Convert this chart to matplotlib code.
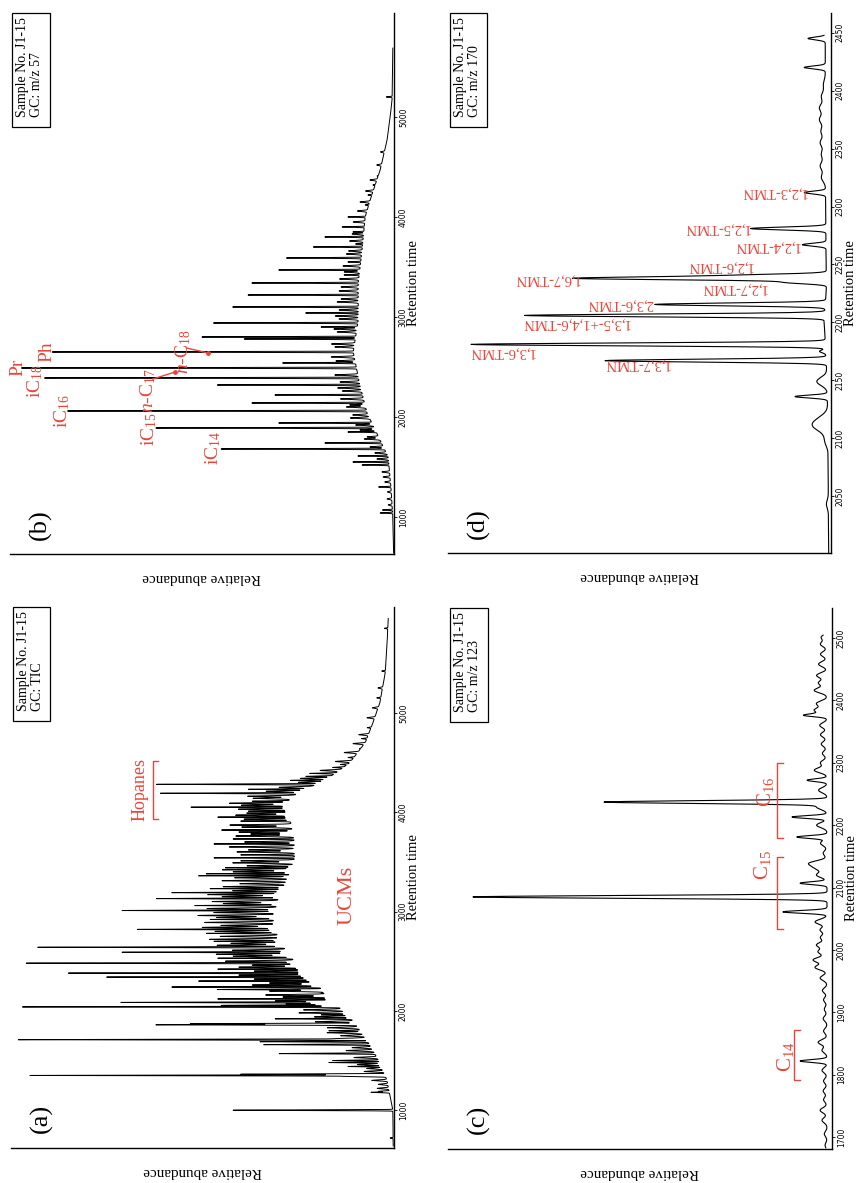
import numpy as np
import matplotlib
matplotlib.use("Agg")
import matplotlib.pyplot as plt
from matplotlib.patches import Rectangle

plt.rcParams['font.family'] = ['Liberation Serif', 'DejaVu Serif']
plt.rcParams['mathtext.fontset'] = 'custom'
plt.rcParams['mathtext.rm'] = 'Liberation Serif'
plt.rcParams['mathtext.it'] = 'Liberation Serif:italic'

RED = '#e8463a'

# ---------------- data ----------------
# (a) GC TIC : hump (UCM) profile, main peaks (time, tip), minor peaks (time, height above hump)
a_hump = [(640, 0.2), (1000, 0.3), (1300, 1.8), (1500, 4), (1700, 7), (1900, 10.7), (2100, 16),
          (2300, 21), (2500, 26), (2700, 30), (2900, 31.5), (3100, 30.5), (3300, 28), (3500, 26),
          (3700, 26), (3900, 27), (4100, 28), (4200, 25), (4300, 19), (4400, 15), (4500, 11.5),
          (4700, 7.5), (4900, 5.5), (5100, 3.7), (5400, 2.3), (5700, 1.8), (5950, 1.5)]
a_peaks = [(720, 1), (1000, 42), (1180, 6), (1190, 4), (1340, 13), (1350, 95), (1362, 40), (1440, 12),
           (1480, 17), (1500, 16), (1570, 30), (1660, 34), (1690, 35), (1710, 97), (1800, 17),
           (1860, 62), (1870, 53), (1920, 31), (1960, 19), (2040, 97), (2055, 45), (2085, 71),
           (2120, 46), (2180, 19), (2215, 46), (2240, 58), (2300, 51), (2340, 75), (2380, 85),
           (2420, 46), (2480, 96), (2530, 46), (2590, 71), (2640, 93), (2700, 47), (2780, 49),
           (2820, 67), (2920, 48), (3010, 71), (3060, 52), (3130, 62), (3190, 58), (3230, 48),
           (3360, 51), (3380, 49), (3440, 44), (3540, 47), (3570, 40), (3680, 47), (3730, 42),
           (3820, 45), (3910, 40), (3950, 46), (4010, 38), (4050, 53), (4110, 37), (4190, 61),
           (4230, 38), (4280, 62), (4320, 27), (4360, 23), (4390, 22), (4450, 16), (4480, 14),
           (4550, 12), (4640, 9), (4740, 8.5), (4850, 7), (5150, 4.5), (5420, 3.2), (5850, 2.5)]
a_minor = [(1220, 3), (1260, 2.5), (1300, 4), (1390, 5), (1420, 4), (1460, 6), (1530, 6), (1600, 7),
           (1630, 5), (1720, 8), (1750, 6), (1780, 9), (1830, 8), (1890, 10), (1940, 9), (1980, 12),
           (2010, 10), (2070, 13), (2100, 15), (2140, 12), (2160, 16), (2200, 14), (2260, 17),
           (2280, 12), (2320, 15), (2360, 18), (2400, 13), (2440, 16), (2460, 12), (2500, 18),
           (2550, 15), (2570, 19), (2610, 14), (2660, 17), (2680, 13), (2720, 18), (2750, 15),
           (2800, 16), (2840, 19), (2860, 14), (2890, 18), (2940, 15), (2960, 20), (2990, 16),
           (3030, 18), (3080, 14), (3100, 17), (3150, 15), (3170, 19), (3210, 13), (3250, 16),
           (3280, 12), (3310, 17), (3340, 14), (3400, 15), (3420, 18), (3460, 12), (3490, 16),
           (3510, 14), (3600, 15), (3620, 12), (3650, 17), (3700, 13), (3760, 15), (3780, 11),
           (3800, 14), (3850, 13), (3870, 16), (3930, 12), (3970, 14), (3990, 11), (4030, 13),
           (4070, 12), (4090, 15), (4140, 10), (4160, 12), (4210, 9), (4250, 8), (4300, 6),
           (4340, 7), (4420, 5), (4510, 4), (4600, 3.5), (4690, 3), (4780, 2.5), (4950, 2),
           (5050, 1.5), (5250, 1.2)]

# (b) GC m/z 57
b_hump = [(640, 0.1), (1000, 0.3), (1300, 0.8), (1600, 1.5), (1840, 4.5), (2040, 7), (2340, 9),
          (2650, 10.6), (2970, 9.3), (3340, 9.3), (3670, 8.3), (4000, 7.5), (4170, 6.2),
          (4470, 3.6), (4770, 1.8), (5000, 1.0), (5170, 0.5), (5700, 0.3)]
b_peaks = [(1040, 3.6), (1070, 3), (1300, 4), (1520, 8.3), (1550, 10.7), (1610, 9.4), (1680, 45),
           (1740, 18), (1850, 12), (1890, 62), (1940, 30), (2060, 85), (2140, 37), (2220, 31),
           (2320, 46), (2390, 91), (2490, 97), (2540, 29), (2650, 89), (2780, 39), (2800, 50),
           (2900, 19), (2940, 47), (3040, 23), (3100, 42), (3220, 38), (3340, 37), (3420, 13),
           (3470, 30), (3550, 12), (3590, 28), (3700, 21), (3730, 10), (3800, 18), (3850, 10.7),
           (3900, 13.5), (4000, 12), (4120, 7.5), (4220, 6.8), (4320, 5.5), (4410, 4.4), (5200, 2)]
b_minor = [(1120, 1), (1180, 1.2), (1250, 1), (1350, 1.5), (1400, 1.8), (1450, 2), (1580, 3),
           (1640, 3), (1700, 3.5), (1780, 4), (1800, 3), (1870, 4), (1920, 4.5), (1990, 5),
           (2020, 4), (2100, 5), (2120, 4), (2180, 6), (2260, 5), (2290, 6), (2350, 5), (2420, 6),
           (2560, 5), (2600, 6), (2700, 5), (2730, 6), (2850, 5), (2880, 6), (2980, 5), (3010, 6),
           (3070, 5), (3150, 5.5), (3180, 4.5), (3260, 5), (3300, 4.5), (3380, 5), (3450, 4),
           (3510, 4.5), (3630, 4), (3660, 3.5), (3760, 3.5), (3830, 3), (3950, 3), (4060, 2.5),
           (4150, 2.5), (4260, 2), (4370, 1.8), (4520, 1.2), (4650, 1)]

# (c) GC m/z 123
c_base = [(1683, 1.3), (2505, 1.3)]
c_peaks = [(1822, 8.3), (2061, 12.8), (2085, 93.5), (2107, 8.3), (2181, 9.1), (2213, 10.4),
           (2237, 59), (2272, 6.5), (2376, 7)]
c_bumps = [(1687, 1.8), (1705, 2.0), (1727, 2.6), (1743, 3.1), (1760, 2.2), (1774, 2.3), (1790, 2.2),
           (1807, 2.6), (1839, 2.6), (1852, 3.6), (1870, 2.2), (1890, 2.3), (1905, 2.0), (1920, 2.2),
           (1935, 2.5), (1955, 3.1), (1972, 4.4), (1984, 4.9), (1997, 3.6), (2008, 4.0), (2020, 3.0),
           (2032, 3.1), (2045, 4.4), (2120, 4.0), (2131, 4.0), (2139, 5.7), (2155, 2.3), (2171, 3.0),
           (2200, 4.0), (2229, 4.0), (2256, 3.5), (2288, 4.6), (2300, 3.0), (2315, 2.5), (2330, 2.8),
           (2345, 3.0), (2360, 3.2), (2384, 4.6), (2395, 4.0), (2416, 4.6), (2428, 3.5), (2440, 4.0),
           (2458, 3.5), (2474, 3.0), (2490, 3.0), (2501, 2.8)]

# (d) GC m/z 170
d_base = [(2001, 0.6), (2100, 0.8), (2150, 1.0), (2190, 1.6), (2200, 1.8), (2230, 1.2),
          (2300, 1.4), (2400, 1.5), (2448, 1.5)]
d_peaks = [(2136, 9.4), (2167, 59), (2175, 3), (2181, 94), (2206, 80), (2215.5, 46), (2234.5, 11.5),
           (2238, 65), (2240.5, 22), (2267, 7.5), (2281, 21), (2312, 7), (2420, 7), (2445, 6)]
d_bumps = [(2043, 1.2), (2096, 1.4), (2102, 1.5), (2109, 3.4), (2114, 3.4), (2119, 1.8), (2149, 3.7),
           (2200, 1.8), (2325, 2.5), (2335, 2.8), (2345, 2.5), (2355, 2.8), (2365, 2.6), (2375, 3.0),
           (2385, 3.0), (2395, 2.5), (2405, 2.0)]

# peak labels (text, intensity, retention time)
b_labels = [('Pr', 98, 2500), (r'iC$_{18}$', 93.5, 2362), ('Ph', 90.4, 2655), (r'iC$_{16}$', 86.5, 2060),
            (r'iC$_{15}$', 63.8, 1880), (r'$n$-C$_{17}$', 64, 2262), (r'$n$-C$_{18}$', 55, 2650),
            (r'iC$_{14}$', 47, 1690)]
d_labels = [('1,2,3-TMN', 6.3, 2312), ('1,2,5-TMN', 21.1, 2281), ('1,2,4-TMN', 8.1, 2265.5),
            ('1,2,6-TMN', 20.4, 2248), ('1,6,7-TMN', 65.5, 2237), ('1,2,7-TMN', 16.7, 2229),
            ('2,3,6-TMN', 46.5, 2215.5), ('1,3,5-+1,4,6-TMN', 52.5, 2199), ('1,3,6-TMN', 77.3, 2174),
            ('1,3,7-TMN', 42, 2164)]
# homologue groups in (c): label, start, end, label position
c_groups = [(r'C$_{14}$', 1791, 1871, 1828), (r'C$_{15}$', 2033, 2149, 2137), (r'C$_{16}$', 2179, 2299, 2254)]


def trace(t, base, peaks, sig, minor=(), sig2=1.0, minor_rel=False):
    bt, by = zip(*base)
    y = np.interp(t, bt, by)
    for ti, tip in peaks:
        y = y + (tip - np.interp(ti, bt, by)) * np.exp(-0.5 * ((t - ti) / sig) ** 2)
    for ti, h in minor:
        if not minor_rel:
            h = h - np.interp(ti, bt, by)
        y = y + h * np.exp(-0.5 * ((t - ti) / sig2) ** 2)
    return y


def decorate(ax, tlim, ticks, letter, gc_line):
    ax.set_xlim(100, 0)
    ax.set_ylim(*tlim)
    ax.spines['top'].set_visible(False)
    ax.spines['left'].set_visible(False)
    ax.spines['right'].set_linewidth(1.0)
    ax.spines['bottom'].set_linewidth(1.0)
    ax.set_xticks([])
    ax.yaxis.tick_right()
    ax.set_yticks(ticks)
    ax.tick_params(axis='y', direction='out', length=2, width=0.6, labelsize=5.5, pad=1.5,
                   labelrotation=90)
    for lab in ax.get_yticklabels():
        lab.set_family('DejaVu Sans')
        lab.set_va('center')
    ax.text(0.078, 0.055, letter, transform=ax.transAxes, rotation=90, fontsize=19,
            ha='center', va='center')
    ax.add_patch(Rectangle((0.004, 0.789), 0.099, 0.211, transform=ax.transAxes, fill=False,
                           lw=0.9, clip_on=False))
    ax.text(0.032, 0.808, 'Sample No. J1-15', transform=ax.transAxes, rotation=90, fontsize=10,
            ha='center', va='bottom')
    ax.text(0.068, 0.808, gc_line, transform=ax.transAxes, rotation=90, fontsize=10,
            ha='center', va='bottom')
    ax.text(1.05, 0.5, 'Retention time', transform=ax.transAxes, rotation=90, fontsize=10.5,
            ha='center', va='center')
    ax.text(0.5, -0.044, 'Relative abundance', transform=ax.transAxes, rotation=180, fontsize=10.8,
            ha='center', va='center')


fig = plt.figure(figsize=(8.6, 11.83), dpi=100)
ax_b = fig.add_axes([0.01163, 0.53170, 0.44651, 0.45731])
ax_d = fig.add_axes([0.52093, 0.53254, 0.44535, 0.45647])
ax_a = fig.add_axes([0.01279, 0.02959, 0.44535, 0.45731])
ax_c = fig.add_axes([0.52093, 0.02874, 0.44651, 0.45731])

# (a)
t = np.arange(640, 5950, 1.0)
ax_a.plot(trace(t, a_hump, a_peaks, 3, a_minor, 5, True), t, color='black', lw=0.7)
decorate(ax_a, (620, 6065), [1000, 2000, 3000, 4000, 5000], '(a)', 'GC: TIC')
ax_a.text(66.3, 4226, 'Hopanes', color=RED, fontsize=13, rotation=90, ha='center', va='center')
ax_a.plot([61.6, 62.9, 62.9, 61.6], [3935, 3935, 4518, 4518], color=RED, lw=1)
ax_a.text(12.3, 3160, 'UCMs', color=RED, fontsize=16, rotation=90, ha='center', va='center')

# (b)
t = np.arange(640, 5690, 1.0)
ax_b.plot(trace(t, b_hump, b_peaks, 3, b_minor, 5, True), t, color='black', lw=0.7)
decorate(ax_b, (630, 6040), [1000, 2000, 3000, 4000, 5000], '(b)', 'GC: m/z 57')
for txt, x, y in b_labels:
    ax_b.text(x, y, txt, color=RED, fontsize=14, rotation=90, ha='center', va='center')
ax_b.plot([62.8, 57], [2380, 2450], color=RED, lw=1)
ax_b.plot([57], [2450], 'o', color=RED, ms=2.5)
ax_b.plot([54, 48.4], [2690, 2640], color=RED, lw=1)
ax_b.plot([48.4], [2640], 'o', color=RED, ms=2.5)

# (c)
t = np.arange(1683, 2505, 0.5)
ax_c.plot(trace(t, c_base, c_peaks, 2.2, c_bumps, 4), t, color='black', lw=0.8)
decorate(ax_c, (1681, 2548), list(range(1700, 2501, 100)), '(c)', 'GC: m/z 123')
bx = [9.9, 14.3, 14.3]
lx = [12.2, 18.2, 17.4]
for (txt, t0, t1, tl), x, xl in zip(c_groups, bx, lx):
    ax_c.plot([x - 1.5, x, x, x - 1.5], [t0, t0, t1, t1], color=RED, lw=1)
    ax_c.text(xl, tl, txt, color=RED, fontsize=15, rotation=90, ha='center', va='center')

# (d)
t = np.arange(2001, 2448, 0.25)
ax_d.plot(trace(t, d_base, d_peaks, 1.2, d_bumps, 3.5), t, color='black', lw=0.8)
decorate(ax_d, (2001, 2467), list(range(2050, 2451, 50)), '(d)', 'GC: m/z 170')
for txt, x, y in d_labels:
    ax_d.text(x, y, txt, color=RED, fontsize=10.5, rotation=180, ha='right', va='center')

fig.savefig('out.png', dpi=100)
